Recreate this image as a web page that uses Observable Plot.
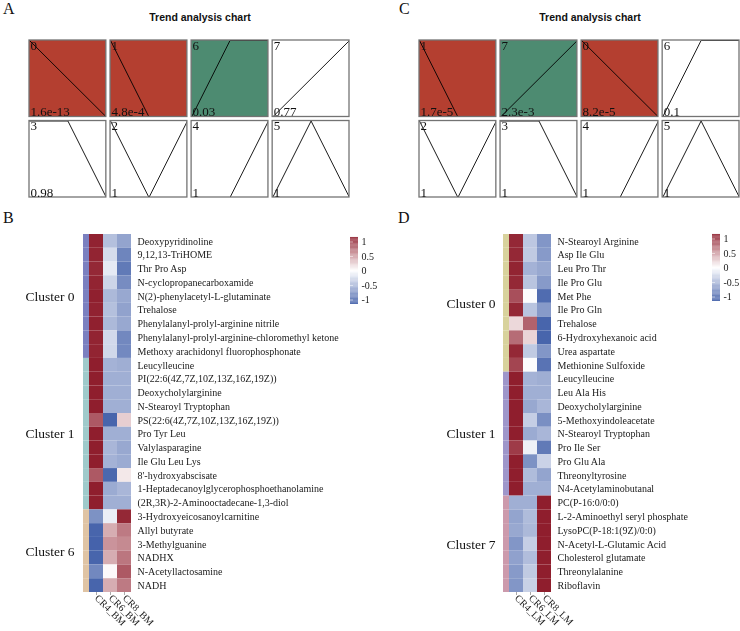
<!DOCTYPE html>
<html><head><meta charset="utf-8">
<script src="https://cdn.jsdelivr.net/npm/d3@7"></script>
<script src="https://cdn.jsdelivr.net/npm/@observablehq/plot@0.6"></script>
<style>
body{margin:0;background:#fff;}
#root{position:relative;width:740px;height:631px;overflow:hidden;background:#fff;}
#root > div.p{position:absolute;will-change:transform;}
#root svg{max-width:none !important;}
.letter{position:absolute;font-size:16px;font-family:"Liberation Serif","Times New Roman",serif;line-height:1;color:#111;}
.title{position:absolute;font-family:"Liberation Sans",Arial,sans-serif;font-weight:bold;font-size:10.5px;line-height:1;transform:translateX(-50%);white-space:nowrap;color:#111;}
</style></head><body><div id="root"></div>
<script>
const SERIF = '"Liberation Serif","Times New Roman",Times,serif';

// ---- Trend analysis (profiles) ----
const profileShape = [[1,0.5,0],[1,0,0],[1,0,1],[1,1,0],[0,0,1],[0,1,0],[0,1,1],[0,0.5,1]]; // index = profile id
const trendA_id = [0,1,6,7,3,2,4,5];
const trendA_p = ["1.6e-13","4.8e-4","0.03","0.77","0.98","1","1","1"];
const trendA_class = ["down","down","up","ns","ns","ns","ns","ns"];
const trendC_id = [1,7,0,6,2,3,4,5];
const trendC_p = ["1.7e-5","2.3e-3","8.2e-5","0.1","1","1","1","1"];
const trendC_class = ["down","up","down","ns","ns","ns","ns","ns"];
const trendClasses = ["down","up","ns"];
const trendColors = ["#B43F30","#4D8B71","#FFFFFF"];

// ---- Heatmap B ----
const rowsB = ["Deoxypyridinoline","9,12,13-TriHOME","Thr Pro Asp","N-cyclopropanecarboxamide","N(2)-phenylacetyl-L-glutaminate","Trehalose","Phenylalanyl-prolyl-arginine nitrile","Phenylalanyl-prolyl-arginine-chloromethyl ketone","Methoxy arachidonyl fluorophosphonate",
"Leucylleucine","PI(22:6(4Z,7Z,10Z,13Z,16Z,19Z))","Deoxycholylarginine","N-Stearoyl Tryptophan","PS(22:6(4Z,7Z,10Z,13Z,16Z,19Z))","Pro Tyr Leu","Valylasparagine","Ile Glu Leu Lys","8'-hydroxyabscisate","1-Heptadecanoylglycerophosphoethanolamine","(2R,3R)-2-Aminooctadecane-1,3-diol",
"3-Hydroxyeicosanoylcarnitine","Allyl butyrate","3-Methylguanine","NADHX","N-Acetyllactosamine","NADH"];
const clusterSizesB = [9,11,6];
const clusterNamesB = ["Cluster 0","Cluster 1","Cluster 6"];
const clusterColorsB = ["#7B80C0","#9FCACB","#E0C4A4"];
const colsB = ["CR4_BM","CR6_BM","CR8_BM"];
const cr4B = [1.13,1.12,1.1,1.12,1.14,1.13,1.14,1.12,1.12, 1.15,1.15,1.15,1.15,0.85,1.15,1.15,1.15,0.85,1.15,1.15, -0.78,-1.1,-1.12,-1.1,-0.85,-1.1];
const cr6B = [-0.45,-0.25,-0.15,-0.3,-0.5,-0.45,-0.5,-0.27,-0.28, -0.55,-0.57,-0.57,-0.57,-1.1,-0.57,-0.52,-0.55,-1.08,-0.6,-0.57, -0.12,0.42,0.55,0.42,0.03,0.42];
const cr8B = [-0.65,-0.87,-0.95,-0.82,-0.62,-0.66,-0.62,-0.85,-0.84, -0.58,-0.57,-0.57,-0.57,0.25,-0.57,-0.62,-0.6,0.12,-0.52,-0.57, 1.1,0.68,0.6,0.7,0.85,0.68];

// ---- Heatmap D ----
const rowsD = ["N-Stearoyl Arginine","Asp Ile Glu","Leu Pro Thr","Ile Pro Glu","Met Phe","Ile Pro Gln","Trehalose","6-Hydroxyhexanoic acid","Urea aspartate","Methionine Sulfoxide",
"Leucylleucine","Leu Ala His","Deoxycholylarginine","5-Methoxyindoleacetate","N-Stearoyl Tryptophan","Pro Ile Ser","Pro Glu Ala","Threonyltyrosine","N4-Acetylaminobutanal",
"PC(P-16:0/0:0)","L-2-Aminoethyl seryl phosphate","LysoPC(P-18:1(9Z)/0:0)","N-Acetyl-L-Glutamic Acid","Cholesterol glutamate","Threonylalanine","Riboflavin"];
const clusterSizesD = [10,9,7];
const clusterNamesD = ["Cluster 0","Cluster 1","Cluster 7"];
const clusterColorsD = ["#D8D29C","#9E96CA","#CC9AAC"];
const colsD = ["CR4_LM","CR6_LM","CR8_LM"];
const cr4D = [1.1,1.1,1.12,1.1,0.9,1.1,0.2,0.75,1.1,0.95, 1.15,1.15,1.15,1.15,1.15,1.0,1.15,1.15,1.15, -0.57,-0.65,-0.62,-0.75,-0.67,-0.72,-0.75];
const cr6D = [-0.4,-0.38,-0.55,-0.42,-0.02,-0.42,0.8,0.22,-0.38,-0.02, -0.55,-0.57,-0.62,-0.35,-0.6,-0.1,-0.78,-0.48,-0.57, -0.57,-0.48,-0.5,-0.35,-0.47,-0.38,-0.33];
const cr8D = [-0.75,-0.72,-0.62,-0.72,-1.05,-0.72,-1.1,-1.1,-0.75,-1.0, -0.58,-0.57,-0.52,-0.8,-0.52,-0.95,-0.32,-0.65,-0.57, 1.15,1.15,1.15,1.15,1.15,1.15,1.15];

const legendTicks = [-1,-0.5,0,0.5,1];
const zMax = 1.155;
const heatColors = ["#3F5DA8","#FFFFFF","#8F1D2C"];

// ------------------------------------------------------------
const root = document.getElementById("root");
function place(node, left, top, w){ const d=document.createElement("div"); d.className="p"; d.style.left=left+"px"; d.style.top=top+"px"; d.style.width=w+"px"; d.appendChild(node); root.appendChild(d); }
function html(cls, text, left, top){ const d=document.createElement("div"); d.className=cls; d.textContent=text; d.style.left=left+"px"; d.style.top=top+"px"; root.appendChild(d); }
const baseStyle = {background:"transparent", overflow:"visible", fontFamily: SERIF, color:"#111", maxWidth:"none"};

function trendPlot(ids, pvals, classes, mLeft, mRight){
  const panels = ids.map((id,i)=>({id, p:pvals[i], cls:classes[i], col:i%4, row:Math.floor(i/4)}));
  const pts = panels.flatMap(d => profileShape[d.id].map((v,t)=>({col:d.col,row:d.row,t,v})));
  return Plot.plot({
    width:370, height:200, marginLeft:mLeft, marginRight:mRight, marginTop:40, marginBottom:3,
    fx:{domain:[0,1,2,3], paddingInner:0.052, paddingOuter:0, round:false, axis:null},
    fy:{domain:[0,1], paddingInner:0.05, paddingOuter:0, round:false, axis:null},
    x:{domain:[0,2], axis:null}, y:{domain:[0,1], axis:null},
    color:{domain:trendClasses, range:trendColors},
    style:{...baseStyle, fontSize:"13px"},
    marks:[
      Plot.rect(panels, {fx:"col", fy:"row", fill:"cls"}),
      Plot.line(pts, {fx:"col", fy:"row", x:"t", y:"v", stroke:"#000", strokeWidth:0.9, clip:true}),
      Plot.rect(panels, {fx:"col", fy:"row", fill:"none", stroke:"#737373", strokeWidth:1.3}),
      Plot.text(panels, {fx:"col", fy:"row", text:d=>String(d.id), frameAnchor:"top-left", lineAnchor:"top", dx:1, dy:0, fontSize:13, fill:"#111"}),
      Plot.text(panels, {fx:"col", fy:"row", text:"p", frameAnchor:"bottom-left", lineAnchor:"bottom", dx:1, dy:-1, fontSize:13, fill:"#111"})
    ]
  });
}

function heatmap(rows, sizes, names, ccolors, cols, c4, c6, c8, annLeft, cellLeft, cellRight, labelDx){
  const H = 431, mTop = 34, mBottom = 39;
  const clusterOf = [];
  sizes.forEach((n,i)=>{ for(let k=0;k<n;k++) clusterOf.push(i); });
  const ann = rows.map((r,i)=>({r, color: ccolors[clusterOf[i]]}));
  const rowH = (H - mTop - mBottom) / rows.length;
  let start = 0;
  const labelMarks = sizes.map((n,i)=>{
    const mid = start + Math.floor((n-1)/2);
    const item = {r: rows[mid], name: names[i]};
    start += n;
    return Plot.text([item], {y:"r", text:"name", frameAnchor:"left", textAnchor:"end", dx:labelDx, dy: (n%2===0 ? rowH/2 : 0), fontSize:13.5, fill:"#111"});
  });
  const annPlot = Plot.plot({
    width: cellLeft, height:H, marginLeft: annLeft, marginRight:0, marginTop:mTop, marginBottom:mBottom,
    x:{domain:["cluster"], axis:null, padding:0, round:false}, y:{domain:rows, axis:null, padding:0, round:false},
    style: baseStyle,
    marks:[ Plot.cell(ann, {x:()=>"cluster", y:"r", fill:"color"}), ...labelMarks ]
  });
  const long = rows.flatMap((r,i)=>[{r,c:cols[0],v:c4[i]},{r,c:cols[1],v:c6[i]},{r,c:cols[2],v:c8[i]}]);
  const hm = Plot.plot({
    width:370, height:H, marginLeft:cellLeft, marginRight:370-cellRight, marginTop:mTop, marginBottom:mBottom,
    x:{domain:cols, padding:0, round:false, label:null}, y:{domain:rows, padding:0, round:false, label:null},
    color:{type:"linear", domain:[-zMax,0,zMax], range:heatColors, interpolate:"rgb", clamp:true},
    style:{...baseStyle, fontSize:"10px"},
    marks:[
      Plot.cell(long, {x:"c", y:"r", fill:"v"}),
      Plot.axisY({anchor:"right", tickSize:0, tickPadding:6, fontSize:10, fill:"#1a1a1a"}),
      Plot.axisX({anchor:"bottom", tickRotate:45, tickSize:3, tickPadding:1, stroke:"#aaa", fontSize:10, fill:"#1a1a1a"})
    ]
  });
  return [annPlot, hm];
}

function legendPlot(){
  const n = 80, step = 2*zMax/n;
  const steps = d3.range(n).map(i => -zMax + i*step);
  return Plot.plot({
    width:40, height:77, marginLeft:0, marginRight:32, marginTop:5, marginBottom:5,
    x:{axis:null}, y:{domain:[-zMax,zMax], axis:null},
    color:{type:"linear", domain:[-zMax,0,zMax], range:heatColors, interpolate:"rgb", clamp:true},
    style:{...baseStyle, fontSize:"10px"},
    marks:[
      Plot.rect(steps, {y1:d=>d, y2:d=>d+step*1.05, fill:d=>d+step/2}),
      Plot.tickY(legendTicks, {y:d=>d, stroke:"white", strokeOpacity:0.5, insetRight:5}),
      Plot.axisY(legendTicks, {anchor:"right", tickSize:0, tickPadding:3, tickFormat:d=>String(d), fontSize:10, fill:"#1a1a1a"})
    ]
  });
}

// Panel A & C
html("letter","A",3,1);
html("title","Trend analysis chart",200,12);
place(trendPlot(trendA_id, trendA_p, trendA_class, 29, 21), 0, 0, 370);
html("letter","C",399,1);
html("title","Trend analysis chart",590,12);
place(trendPlot(trendC_id, trendC_p, trendC_class, 49, 1), 370, 0, 370);

// Panel B
html("letter","B",3,210);
const [annB, hmB] = heatmap(rowsB, clusterSizesB, clusterNamesB, clusterColorsB, colsB, cr4B, cr6B, cr8B, 83, 89, 131, -9);
place(annB, 0, 200, 89); place(hmB, 0, 200, 370);
place(legendPlot(), 350, 232, 40);

// Panel D
html("letter","D",398,210);
const [annD, hmD] = heatmap(rowsD, clusterSizesD, clusterNamesD, clusterColorsD, colsD, cr4D, cr6D, cr8D, 133, 139, 181, -8);
place(annD, 370, 200, 139); place(hmD, 370, 200, 370);
place(legendPlot(), 712, 229, 40);
</script></body></html>
